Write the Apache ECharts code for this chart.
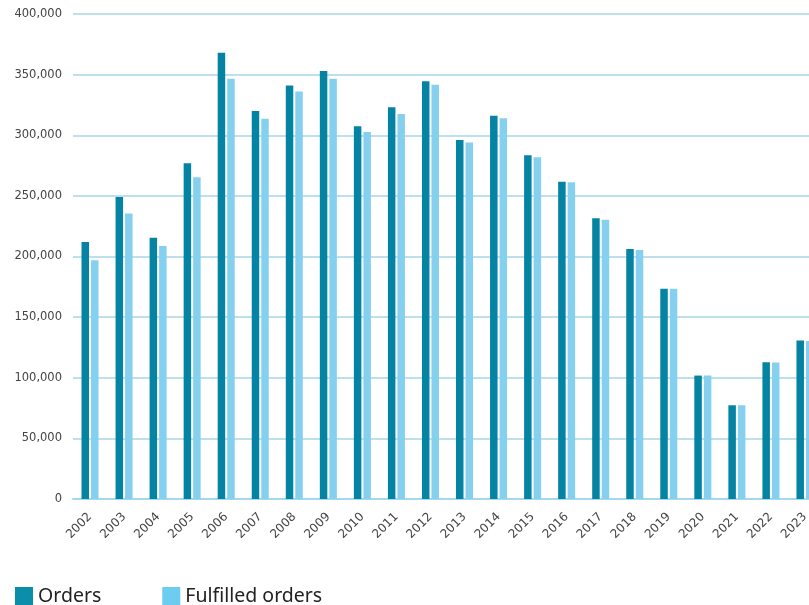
<!DOCTYPE html>
<html>
<head>
<meta charset="utf-8">
<script src="https://cdn.jsdelivr.net/npm/echarts@6/dist/echarts.min.js"></script>
<style>
html,body{margin:0;padding:0;background:#fff;}
#c{width:809px;height:605px;}
</style>
</head>
<body>
<div id="c"></div>
<script>
const years = ['2002','2003','2004','2005','2006','2007','2008','2009','2010','2011','2012','2013','2014','2015','2016','2017','2018','2019','2020','2021','2022','2023'];
const orders = [212000,249000,215500,277000,368000,320000,341000,353000,307500,323000,344500,296000,316000,283500,261700,231500,206200,173500,101800,77300,112800,130700];
const fulfilled = [197000,235500,208700,265300,346700,313700,336000,346700,302700,317500,341700,294000,314000,281800,261200,230400,205400,173500,101800,77300,112600,130400];
const yTicks = [0,50000,100000,150000,200000,250000,300000,350000,400000];

const chart = echarts.init(document.getElementById('c'));
chart.setOption({
  animation:false,
  grid:{left:73, top:14, width:749, height:485, containLabel:false, outerBoundsMode:'none'},
  legend:{
    left:15, top:586, padding:0, itemWidth:18, itemHeight:18, itemGap:61,
    icon:'rect',
    textStyle:{fontFamily:'Noto Sans', fontSize:19.5, color:'#222'},
    data:[
      {name:'Orders', itemStyle:{color:'#0b8eaa'}},
      {name:'Fulfilled orders', itemStyle:{color:'#6ccdf1'}}
    ]
  },
  xAxis:{
    type:'category', data:years,
    axisLine:{lineStyle:{color:'#a4d8ee', width:2}},
    axisTick:{show:false},
    axisLabel:{rotate:45, margin:16, fontFamily:'DejaVu Sans', fontSize:12, color:'#444', interval:0}
  },
  yAxis:{
    type:'value', min:0, max:400000, interval:50000,
    axisLine:{show:false}, axisTick:{show:false},
    axisLabel:{margin:11, fontFamily:'DejaVu Sans', fontSize:11.5, color:'#444',
      formatter:v=>yTicks.includes(v)?v.toLocaleString('en-US'):''},
    splitLine:{lineStyle:{color:'#a9d4e6', width:1.5}}
  },
  series:[
    {name:'Orders', type:'bar', data:orders, barWidth:7.5, barGap:'27%',
     itemStyle:{color:'#0583a3'}},
    {name:'Fulfilled orders', type:'bar', data:fulfilled, barWidth:7.5,
     itemStyle:{color:'#86d0ef'}}
  ]
});
</script>
</body>
</html>
